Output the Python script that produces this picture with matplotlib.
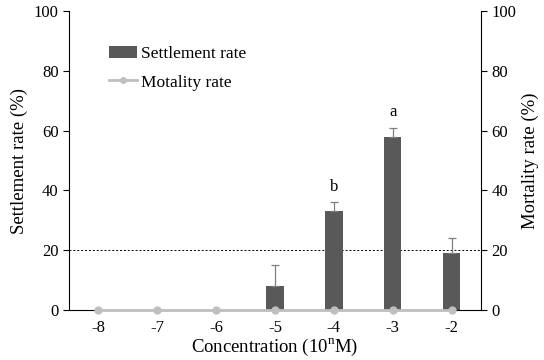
import matplotlib.pyplot as plt
import numpy as np
from matplotlib.patches import Patch
from matplotlib.lines import Line2D

plt.rcParams['font.family'] = ['Liberation Serif', 'DejaVu Serif']

conc = [-8, -7, -6, -5, -4, -3, -2]
settlement = [0, 0, 0, 8, 33, 58, 19]
settle_err = [0, 0, 0, 7, 3, 3, 5]
mortality = [0, 0, 0, 0, 0, 0, 0]
letters = {-4: 'b', -3: 'a'}

fig = plt.figure(figsize=(5.44, 3.6), dpi=100)
ax = fig.add_axes([0.1268, 0.1389, 0.7573, 0.8305])

x = np.array(conc)
ax.bar(x, settlement, width=0.3, color='#595959', zorder=2)
has_err = np.array(settle_err) > 0
ax.errorbar(x[has_err], np.array(settlement)[has_err],
            yerr=[np.zeros(has_err.sum()), np.array(settle_err)[has_err]],
            fmt='none', ecolor='#7f7f7f', elinewidth=0.9, capsize=3, capthick=0.9, zorder=3)
for k, lab in letters.items():
    i = conc.index(k)
    ax.text(k, settlement[i] + settle_err[i] + 2.5, lab, ha='center', va='bottom', fontsize=12)

ax.axhline(20, color='black', linestyle=(0, (2, 2)), linewidth=0.7, zorder=1)

ax.plot(x, mortality, color='#bfbfbf', linewidth=2, marker='o', markersize=5,
        zorder=4, clip_on=False)

ax.set_xlim(-8.5, -1.5)
ax.set_ylim(0, 100)
ax.set_xticks(conc)
ax.set_xticklabels([str(c) for c in conc], fontsize=12)
ax.tick_params(axis='x', length=0, pad=7)
ax.set_yticks(range(0, 101, 20))
ax.tick_params(axis='y', direction='out', length=4, labelsize=12)
ax.spines['top'].set_visible(False)
ax.spines['right'].set_visible(False)
ax.set_xlabel('Concentration (10$^{\\mathregular{n}}$M)', fontsize=13.5, labelpad=1)
ax.set_ylabel('Settlement rate (%)', fontsize=13.5)

ax2 = ax.twinx()
ax2.set_ylim(0, 100)
ax2.set_yticks(range(0, 101, 20))
ax2.tick_params(axis='y', direction='out', length=4, labelsize=12)
ax2.spines['top'].set_visible(False)
ax2.spines['left'].set_visible(False)
ax2.spines['bottom'].set_visible(False)
ax2.set_ylabel('Mortality rate (%)', fontsize=13.5)

handles = [Patch(facecolor='#595959', label='Settlement rate'),
           Line2D([0], [0], color='#bfbfbf', linewidth=2, marker='o', markersize=4,
                  label='Motality rate')]
ax.legend(handles=handles, loc='upper left', bbox_to_anchor=(0.06, 0.935), frameon=False,
          fontsize=12.5, handlelength=1.6, handletextpad=0.2, labelspacing=0.7)

plt.savefig('out.png', dpi=100)
